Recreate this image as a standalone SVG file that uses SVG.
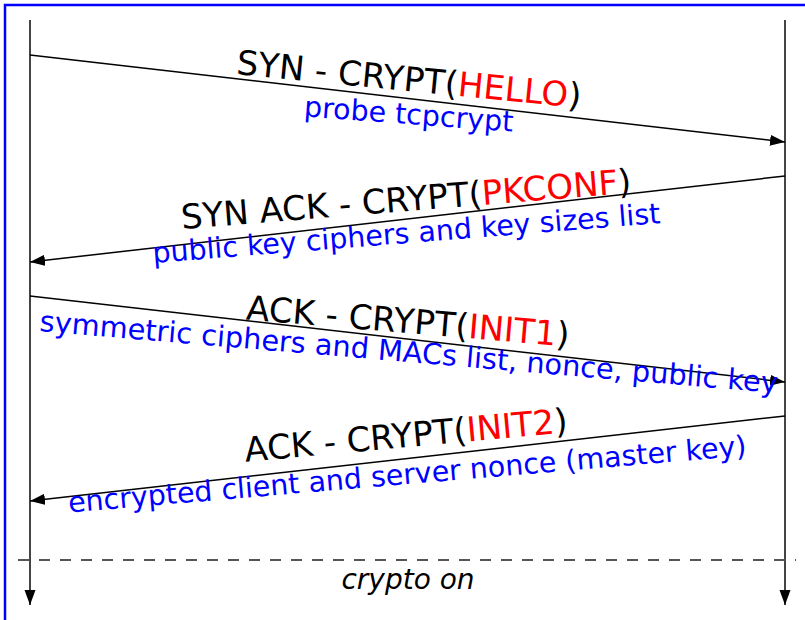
<svg xmlns="http://www.w3.org/2000/svg" width="805" height="620" viewBox="0 0 805 620">
  <style>
    .frame { fill: #ffffff; stroke: #0000ff; stroke-width: 2.5; }
    .life { stroke: #444444; stroke-width: 2; fill: none; }
    .msg { stroke: #000000; stroke-width: 1.5; fill: none; }
    .sep { stroke: #555555; stroke-width: 2; stroke-dasharray: 11 10; fill: none; }
    .lbl { font-family: "DejaVu Sans", Verdana, sans-serif; font-size: 34px; fill: #000000; text-anchor: middle; }
    .sub { font-family: "DejaVu Sans", Verdana, sans-serif; font-size: 28.5px; fill: #0000ff; text-anchor: middle; }
    .red { fill: #ff0000; }
    .note { font-family: "DejaVu Sans", Verdana, sans-serif; font-size: 28px; font-style: italic; fill: #000000; text-anchor: middle; }
  </style>
  <defs>
    <marker id="head" markerUnits="userSpaceOnUse" markerWidth="16" markerHeight="12" refX="15" refY="5.5" orient="auto">
      <path d="M0,0 L15,5.5 L0,11 z" fill="#000000"/>
    </marker>
  </defs>

  <rect class="frame" x="5" y="5" width="820" height="630"/>

  <!-- lifelines -->
  <g id="client">
    <line class="life" x1="30" y1="20" x2="30" y2="605" marker-end="url(#head)"/>
  </g>
  <g id="server">
    <line class="life" x1="785" y1="20" x2="785" y2="605" marker-end="url(#head)"/>
  </g>

  <!-- message arrows and the crypto-on separator -->
  <g id="connectors">
    <line class="msg" x1="30" y1="55" x2="785" y2="142" marker-end="url(#head)"/>
    <line class="msg" x1="785" y1="176" x2="30" y2="262" marker-end="url(#head)"/>
    <line class="msg" x1="30" y1="296" x2="785" y2="382" marker-end="url(#head)"/>
    <line class="msg" x1="785" y1="416" x2="30" y2="501" marker-end="url(#head)"/>
    <line class="sep" x1="18" y1="560" x2="796" y2="560"/>
  </g>

  <!-- labels -->
  <g id="hello">
    <text class="lbl" transform="translate(408,91) rotate(5.6)">SYN - CRYPT(<tspan class="red">HELLO</tspan>)</text>
    <text class="sub" transform="translate(408,124) rotate(4.2)">probe tcpcrypt</text>
  </g>
  <g id="pkconf">
    <text class="lbl" transform="translate(407,211) rotate(-4.6)">SYN ACK - CRYPT(<tspan class="red">PKCONF</tspan>)</text>
    <text class="sub" transform="translate(407,243) rotate(-4.5)">public key ciphers and key sizes list</text>
  </g>
  <g id="init1">
    <text class="lbl" transform="translate(407,333) rotate(4.8)">ACK - CRYPT(<tspan class="red">INIT1</tspan>)</text>
    <text class="sub" style="font-size:28.8px" transform="translate(408,362) rotate(4.8)">symmetric ciphers and MACs list, nonce, public key</text>
  </g>
  <g id="init2">
    <text class="lbl" transform="translate(407,447) rotate(-5.2)">ACK - CRYPT(<tspan class="red">INIT2</tspan>)</text>
    <text class="sub" transform="translate(408,484) rotate(-4.8)">encrypted client and server nonce (master key)</text>
  </g>
  <g id="crypto-on">
    <text class="note" x="408" y="589">crypto on</text>
  </g>
</svg>
